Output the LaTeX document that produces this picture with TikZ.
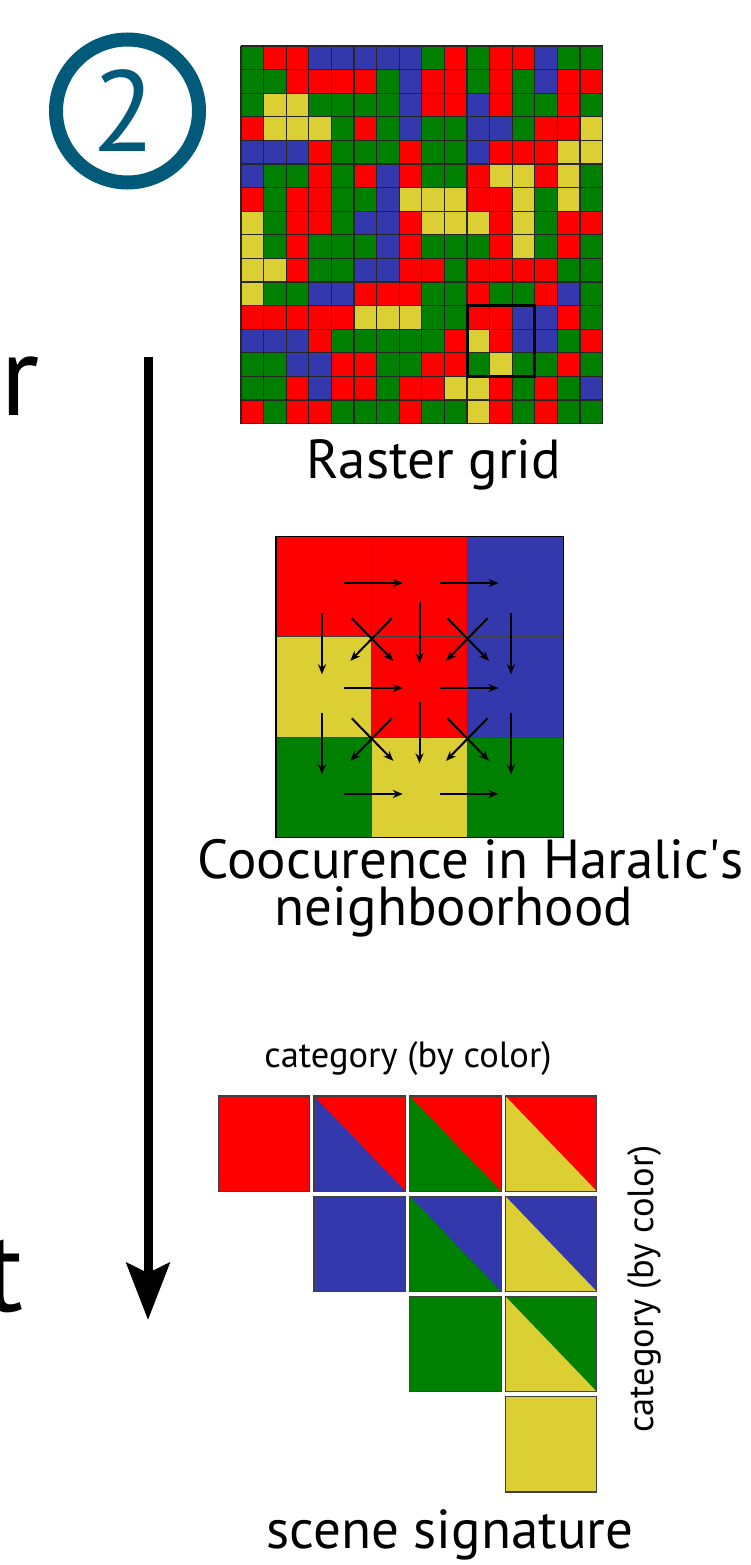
\documentclass[tikz,border=0pt]{standalone}
\usepackage{fontspec}
\setmainfont{PT Sans}
\usetikzlibrary{arrows.meta}
\definecolor{cr}{HTML}{FF0000}
\definecolor{cg}{HTML}{008000}
\definecolor{cb}{HTML}{3338AD}
\definecolor{cy}{HTML}{DBCF33}
\definecolor{tealc}{HTML}{015A7A}
\tikzset{
  lbl/.style={font=\fontsize{55pt}{60pt}\selectfont, inner sep=0pt},
  smalllbl/.style={font=\fontsize{36.5pt}{40pt}\selectfont, inner sep=0pt},
  biglbl/.style={font=\fontsize{115pt}{120pt}\selectfont, inner sep=0pt},
  gridline/.style={line width=1.1pt, black!85},
  carrow/.style={line width=2pt, -{Stealth[length=10pt,width=8pt]}},
  sqborder/.style={line width=1.2pt, black!75},
  cellborder/.style={line width=1pt, black!75},
}
\begin{document}
\begin{tikzpicture}[x=1pt,y=-1pt]
\useasboundingbox (0,0) rectangle (750,1565);
\fill[white] (0,0) rectangle (750,1565);

% circled 2
\draw[tealc, line width=14pt] (127.5,111) circle[radius=71.5pt];
\node[biglbl, text=tealc, anchor=base] (two) at (124,152) {2};

% cut-off letters at left
\node[biglbl, anchor=base west] (rr) at (0,415) {r};
\node[biglbl, anchor=base west] (tt) at (-16,1311) {t};

% big arrow
\coordinate (atop) at (148,357);
\coordinate (abot) at (148,1320);
\draw[line width=9pt, -{Stealth[length=57pt,width=43pt,inset=10pt]}] (atop) -- (abot);

% raster grid
\foreach \row [count=\j] in {
 {g,r,r,b,b,b,b,b,g,r,g,r,r,b,g,g},
 {g,g,r,r,r,r,g,b,r,r,g,r,g,b,r,r},
 {g,y,y,g,g,g,g,b,r,r,b,r,g,g,r,g},
 {r,y,y,y,g,r,g,b,g,g,b,b,g,r,r,y},
 {b,b,b,r,g,g,g,r,g,g,b,r,r,r,y,y},
 {b,g,g,r,g,r,b,r,g,g,r,y,y,r,y,g},
 {r,g,r,r,g,g,b,y,y,y,r,r,y,g,y,g},
 {y,g,r,r,g,b,b,r,y,y,y,r,y,g,r,r},
 {y,g,r,g,g,g,b,r,g,g,g,r,y,g,r,g},
 {y,y,r,g,g,b,b,r,r,g,r,r,r,r,g,g},
 {y,g,g,b,b,r,r,r,g,g,r,g,g,r,b,g},
 {r,r,r,r,r,y,y,y,g,g,r,r,b,b,r,g},
 {b,b,b,r,g,g,g,g,g,r,y,r,b,b,g,r},
 {g,g,b,b,r,r,g,g,r,r,g,y,g,g,r,g},
 {g,g,r,b,r,r,g,r,r,y,y,r,g,r,g,b},
 {r,g,r,r,g,g,g,r,g,g,y,r,g,r,g,g}} {
  \foreach \c [count=\i] in \row {
    \fill[fill=c\c] ({241+(\i-1)*22.6},{46+(\j-1)*23.6}) rectangle +(22.6,23.6);
  }
}
\foreach \i in {0,...,16} \draw[gridline] ({241+\i*22.6},46) -- ({241+\i*22.6},423.6);
\foreach \j in {0,...,16} \draw[gridline] (241,{46+\j*23.6}) -- (602.6,{46+\j*23.6});
\draw[line width=3pt] (467,305.6) rectangle (534.8,376.4);
\node[lbl, anchor=base] (raster) at (434,478) {Raster grid};

% coocurrence neighbourhood
\foreach \c/\i/\j in {cr/0/0, cr/1/0, cb/2/0, cy/0/1, cr/1/1, cb/2/1, cg/0/2, cy/1/2, cg/2/2}
  \fill[fill=\c] ({276+\i*95.77},{536.7+\j*100.2}) rectangle +(95.77,100.2);
\foreach \i in {1,2} \draw[cellborder] ({276+\i*95.77},536.7) -- ({276+\i*95.77},837.3);
\foreach \j in {1,2} \draw[cellborder] (276,{536.7+\j*100.2}) -- (563.3,{536.7+\j*100.2});
\draw[line width=1.5pt] (276,536.7) rectangle (563.3,837.3);
\foreach \bx in {371.8,467.5} {
  \foreach \yy in {583,688,794}
    \draw[carrow] ({\bx-28},\yy) -- ({\bx+31},\yy);
}
\foreach \by in {637.3,737.3} {
  \foreach \vx in {322,511}
    \draw[carrow] (\vx,{\by-24}) -- (\vx,{\by+37});
  \draw[carrow] (419.5,{\by-35}) -- (419.5,{\by+26});
  \foreach \bx in {371.8,467.5} {
    \draw[carrow] ({\bx-20},{\by-19}) -- ({\bx+21.5},{\by+23.5});
    \draw[carrow] ({\bx+20},{\by-19}) -- ({\bx-21.5},{\by+23.5});
  }
}
\node[lbl, anchor=base] (cooc1) at (471,878) {Coocurence in Haralic\textquotesingle s};
\node[lbl, anchor=base] (cooc2) at (454,925) {neighboorhood};

% scene signature
\node[smalllbl, anchor=base] (cat1) at (408,1067) {category (by color)};
\foreach \i/\j/\ur/\ll in {0/0/cr/cr, 1/0/cr/cb, 2/0/cr/cg, 3/0/cr/cy, 1/1/cb/cb, 2/1/cb/cg, 3/1/cb/cy, 2/2/cg/cg, 3/2/cg/cy, 3/3/cy/cy} {
  \pgfmathsetmacro{\sx}{218.3+\i*95.7}
  \pgfmathsetmacro{\sy}{1096+\j*100.2}
  \fill[fill=\ur] (\sx,\sy) rectangle ({\sx+91.4},{\sy+95.3});
  \ifnum\i=\j\else
    \fill[fill=\ll] (\sx,\sy) -- (\sx,{\sy+95.3}) -- ({\sx+91.4},{\sy+95.3}) -- cycle;
  \fi
  \draw[sqborder] (\sx,\sy) rectangle ({\sx+91.4},{\sy+95.3});
}
\node[smalllbl, rotate=90, anchor=base] (cat2) at (653,1289) {category (by color)};
\node[lbl, anchor=base] (sig) at (450,1548) {scene signature};
\end{tikzpicture}
\end{document}
